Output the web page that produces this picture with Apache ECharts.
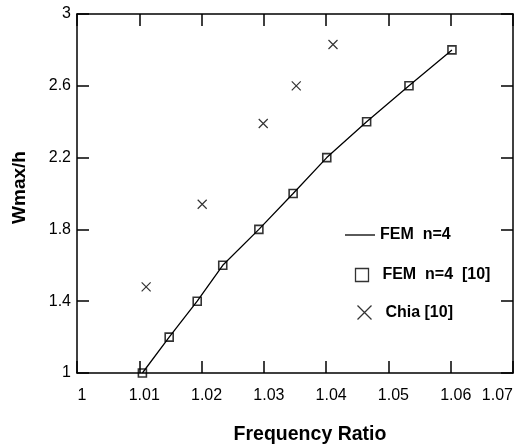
<!DOCTYPE html>
<html>
<head>
<meta charset="utf-8">
<script src="https://cdn.jsdelivr.net/npm/echarts@6/dist/echarts.min.js"></script>
<style>html,body{margin:0;padding:0;background:#fff;}#c{width:520px;height:446px;}</style>
</head>
<body>
<div id="c"></div>
<script>
// FEM n=4 (line) and FEM n=4 [10] (squares)
const femX = [1.0105, 1.0148, 1.0193, 1.0234, 1.0292, 1.0347, 1.0401, 1.0465, 1.0533, 1.0602];
const femY = [1.0, 1.2, 1.4, 1.6, 1.8, 2.0, 2.2, 2.4, 2.6, 2.8];
// Chia [10] (crosses)
const chiaX = [1.0111, 1.0201, 1.0299, 1.0352, 1.0411];
const chiaY = [1.48, 1.94, 2.39, 2.60, 2.83];
const xTicks = [1, 1.01, 1.02, 1.03, 1.04, 1.05, 1.06, 1.07];
const yTicks = [1, 1.4, 1.8, 2.2, 2.6, 3];

const font = 'Liberation Sans, Arial, sans-serif';
const crossPath = 'path://M0,0L10,10M10,0L0,10';
const pair = (xs, ys) => xs.map((x, i) => [x, ys[i]]);

const chart = echarts.init(document.getElementById('c'), null, {renderer: 'canvas'});
const xCommon = {
  type: 'value', min: xTicks[0], max: xTicks[xTicks.length - 1], interval: 0.01,
  axisLine: {show: true, lineStyle: {color: '#000', width: 1.5}},
  axisTick: {show: true, inside: true, length: 12, lineStyle: {color: '#000', width: 1.5}},
  splitLine: {show: false}
};
const yCommon = {
  type: 'value', min: yTicks[0], max: yTicks[yTicks.length - 1], interval: 0.4,
  axisLine: {show: true, lineStyle: {color: '#000', width: 1.5}},
  axisTick: {show: true, inside: true, length: 12, lineStyle: {color: '#000', width: 1.5}},
  splitLine: {show: false}
};
const legendText = {fontFamily: font, fontWeight: 'bold', fontSize: 16, color: '#000'};

chart.setOption({
  animation: false,
  backgroundColor: '#fff',
  grid: {left: 77, right: 7, top: 14, bottom: 73, containLabel: false, outerBoundsMode: 'none'},
  xAxis: [
    Object.assign({}, xCommon, {
      position: 'bottom',
      name: 'Frequency Ratio', nameLocation: 'middle', nameGap: 52,
      nameTextStyle: {fontFamily: font, fontWeight: 'bold', fontSize: 19.5, color: '#000', padding: [0, 0, 0, 30]},
      axisLabel: {
        fontFamily: font, fontSize: 16, color: '#000', margin: 15,
        padding: [0, 0, 0, 10],
        formatter: v => String(parseFloat(v.toFixed(2))),
        alignMaxLabel: 'right'
      }
    }),
    Object.assign({}, xCommon, {position: 'top', axisLabel: {show: false}})
  ],
  yAxis: [
    Object.assign({}, yCommon, {
      position: 'left',
      name: 'Wmax/h', nameLocation: 'middle', nameGap: 48,
      nameTextStyle: {fontFamily: font, fontWeight: 'bold', fontSize: 19, color: '#000', padding: [0, 0, 0, 12]},
      axisLabel: {
        fontFamily: font, fontSize: 16, color: '#000', margin: 6,
        formatter: v => String(parseFloat(v.toFixed(1)))
      }
    }),
    Object.assign({}, yCommon, {position: 'right', axisLabel: {show: false}})
  ],
  legend: [
    {
      data: [{name: 'FEM  n=4', icon: 'rect'}], left: 345, top: 227, padding: 0,
      itemWidth: 30, itemHeight: 1.3,
      itemStyle: {color: '#000', borderWidth: 0},
      textStyle: legendText, selectedMode: false
    },
    {
      data: [{name: 'FEM  n=4  [10]', icon: 'rect'}], left: 353, top: 266, padding: 0,
      itemWidth: 13, itemHeight: 13,
      itemStyle: {color: 'none', borderColor: '#000', borderWidth: 1.3},
      formatter: '  {name}',
      textStyle: legendText, selectedMode: false
    },
    {
      data: [{name: 'Chia [10]', icon: crossPath}], left: 355, top: 303, padding: 0,
      itemWidth: 14, itemHeight: 14,
      itemStyle: {color: 'none', borderColor: '#000', borderWidth: 1.3},
      formatter: '  {name}',
      textStyle: legendText, selectedMode: false
    }
  ],
  series: [
    {
      name: 'FEM  n=4', type: 'line', data: pair(femX, femY),
      showSymbol: false, symbol: 'none',
      lineStyle: {color: '#000', width: 1.3},
      itemStyle: {color: '#000'}, z: 2
    },
    {
      name: 'FEM  n=4  [10]', type: 'scatter', data: pair(femX, femY),
      symbol: 'rect', symbolSize: 8,
      itemStyle: {color: 'none', borderColor: '#000', borderWidth: 1.6}, z: 3
    },
    {
      name: 'Chia [10]', type: 'scatter', data: pair(chiaX, chiaY),
      symbol: crossPath, symbolSize: 9,
      itemStyle: {color: 'none', borderColor: '#000', borderWidth: 1.2}, z: 3
    }
  ]
});
</script>
</body>
</html>
